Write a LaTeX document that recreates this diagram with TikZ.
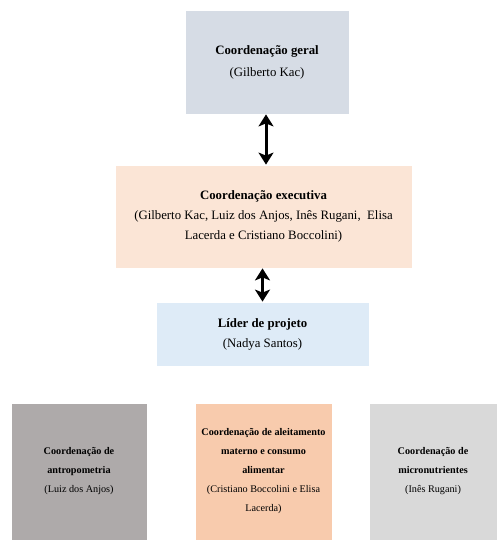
\documentclass[tikz,border=0pt]{standalone}
\usepackage{fontspec}
\setmainfont{Liberation Serif}
\usetikzlibrary{positioning,arrows.meta}
\definecolor{geralBg}{RGB}{214,220,229}
\definecolor{execBg}{RGB}{251,229,214}
\definecolor{liderBg}{RGB}{222,235,247}
\definecolor{antroBg}{RGB}{174,170,170}
\definecolor{aleitBg}{RGB}{248,203,173}
\definecolor{microBg}{RGB}{217,217,217}
\tikzset{
  box/.style={rectangle,draw=white,line width=0.8pt,align=center,
    inner sep=4pt},
  topbox/.style={box,font=\fontsize{12.8}{22}\selectfont},
  midbox/.style={box,font=\fontsize{12.8}{20}\selectfont},
  subbox/.style={box,font=\fontsize{10.2}{19}\selectfont,
    minimum height=137pt},
  biarr/.style={{Stealth[length=12pt,width=15pt,inset=3pt]}-{Stealth[length=12pt,
    width=15pt,inset=3pt]},line width=3pt,color=black},
}

\begin{document}
\begin{tikzpicture}[x=1pt,y=-1pt]
\useasboundingbox (0,0) rectangle (497,540);

% =====================================================================
%  TOP — coordenação geral and executiva
% =====================================================================
\node[topbox,fill=geralBg,minimum width=164pt,minimum height=104pt]
  (cgeral) at (267,62)
  {\textbf{Coordenação geral}\\(Gilberto Kac)};
\node[midbox,fill=execBg,minimum width=297pt,minimum height=103pt]
  (cexec) at (263.5,216.5)
  {\textbf{Coordenação executiva}\\(Gilberto Kac, Luiz dos Anjos, Inês Rugani,~ Elisa\\
   Lacerda e Cristiano Boccolini)};

% --- Líder de projeto ---
\node[midbox,fill=liderBg,minimum width=213pt,minimum height=64pt]
  (lider) at (262.5,334)
  {\textbf{Líder de projeto}\\(Nadya Santos)};

% ----- Arrows -----
\draw[biarr] ([xshift=-1pt]cgeral.south) -- ([xshift=-1pt]cgeral.south |- cexec.north);
\draw[biarr] (lider.north) -- (lider.north |- cexec.south);

% =====================================================================
%  BOTTOM — three coordenações
% =====================================================================
\node[subbox,fill=antroBg,minimum width=136pt] (cantro) at (79,471.5)
  {\textbf{Coordenação de}\\\textbf{antropometria}\\(Luiz dos Anjos)};
\node[subbox,fill=aleitBg,minimum width=137pt] (caleit) at (263.5,471.5)
  {\textbf{Coordenação de aleitamento}\\\textbf{materno e consumo}\\
   \textbf{alimentar}\\(Cristiano Boccolini e Elisa\\Lacerda)};
\node[subbox,fill=microBg,minimum width=128pt] (cmicro) at (433,471.5)
  {\textbf{Coordenação de}\\\textbf{micronutrientes}\\(Inês Rugani)};

\end{tikzpicture}
\end{document}
